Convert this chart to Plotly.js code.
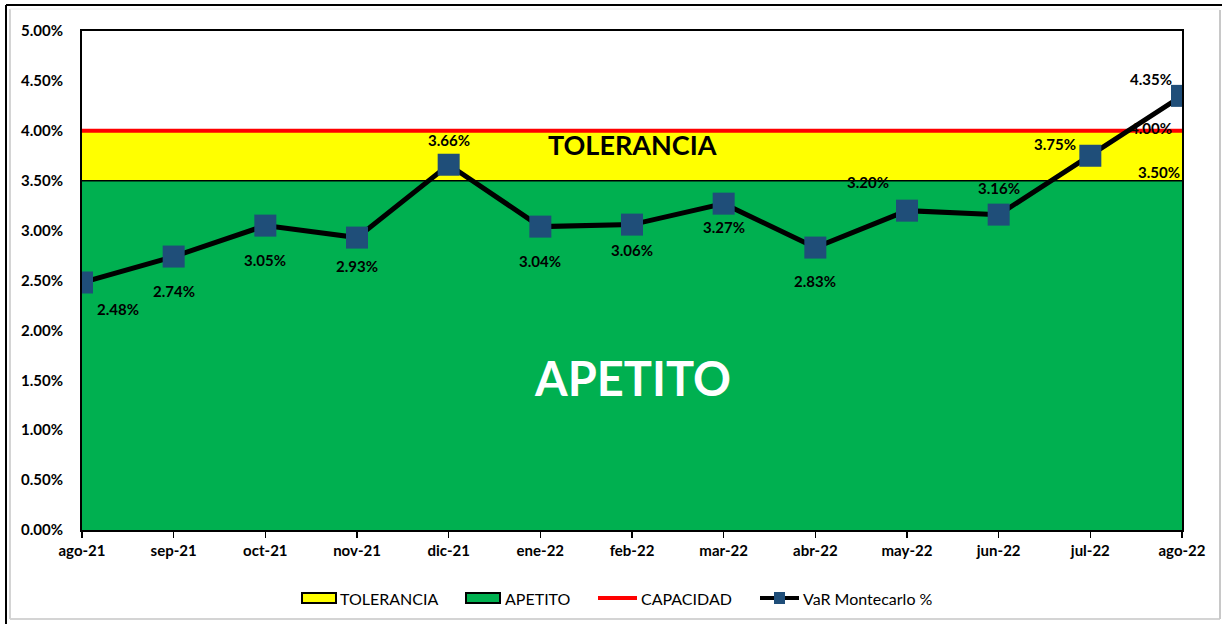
<!DOCTYPE html>
<html>
<head>
<meta charset="utf-8">
<script src="https://cdn.plot.ly/plotly-3.0.1.min.js"></script>
<style>
html,body{margin:0;padding:0;background:#fff;}
#chart{width:1222px;height:624px;}
</style>
</head>
<body>
<div id="chart"></div>
<script>
const months = ["ago-21","sep-21","oct-21","nov-21","dic-21","ene-22","feb-22","mar-22","abr-22","may-22","jun-22","jul-22","ago-22"];
const varMontecarlo = [0.0248,0.0274,0.0305,0.0293,0.0366,0.0304,0.0306,0.0327,0.0283,0.0320,0.0316,0.0375,0.0435];
const apetito = [0.035,0.035,0.035,0.035,0.035,0.035,0.035,0.035,0.035,0.035,0.035,0.035,0.035];
const tolerancia = [0.04,0.04,0.04,0.04,0.04,0.04,0.04,0.04,0.04,0.04,0.04,0.04,0.04];
const capacidad = [0.04,0.04,0.04,0.04,0.04,0.04,0.04,0.04,0.04,0.04,0.04,0.04,0.04];
const yTicks = [0,0.005,0.01,0.015,0.02,0.025,0.03,0.035,0.04,0.045,0.05];
const seriesNames = ["TOLERANCIA","APETITO","CAPACIDAD","VaR Montecarlo %"];

// label pixel offsets (style only)
const labelOffsets = [[36,26],[0,34],[0,34],[0,28],[0,-25],[0,34],[0,25],[0,23],[0,33],[-39,-29],[0,-27],[-35,-12],[-31,-17]];

const FONT = "Lato, 'DejaVu Sans Condensed', Arial, sans-serif";
const COLORS = {tol:'#FFFF00', ape:'#00B050', cap:'#FF0000', var:'#000', mk:'#1F4E79'};
const fmt = v => (v*100).toFixed(2) + "%";

// plot area geometry (pixels) for paper-coordinate decorations
const PL = 82, PR = 1182, PT = 31, PB = 530;
const px = x => (x - PL) / (PR - PL);
const py = y => (PB - y) / (PB - PT);

const traces = [
  {x: months, y: apetito, type:'scatter', mode:'lines', name:seriesNames[1], fill:'tozeroy',
   fillcolor:COLORS.ape, line:{color:'#000', width:1.5}, showlegend:false, hoverinfo:'skip'},
  {x: months, y: tolerancia, type:'scatter', mode:'lines', name:seriesNames[0], fill:'tonexty',
   fillcolor:COLORS.tol, line:{color:'#000', width:1.5}, showlegend:false, hoverinfo:'skip'},
  {x: months, y: capacidad, type:'scatter', mode:'lines', name:seriesNames[2],
   line:{color:COLORS.cap, width:4}, showlegend:false},
  {x: months, y: varMontecarlo, type:'scatter', mode:'lines+markers', name:seriesNames[3],
   line:{color:COLORS.var, width:5}, marker:{symbol:'square', size:22, color:COLORS.mk, line:{width:0}}, showlegend:false}
];

const lblFont = {family:FONT, size:15, color:'#000', weight:'bold'};
const annotations = varMontecarlo.map((v,i)=>({
  x: months[i], y: v, xref:'x', yref:'y', text: fmt(v), showarrow:false,
  xshift: labelOffsets[i][0], yshift: -labelOffsets[i][1], font: lblFont
}));
const last = months.length-1;
annotations.push({x: months[last], y: capacidad[last], text: fmt(capacidad[last]), showarrow:false,
  xshift:-31, yshift:3, font: lblFont});
annotations.push({x: months[last], y: apetito[last], text: fmt(apetito[last]), showarrow:false,
  xshift:-23, yshift:9, font: lblFont});
annotations.push({x: 0.5, xref:'paper', y: 0.0386, yref:'y', text:seriesNames[0], showarrow:false,
  font:{family:FONT, size:27, color:'#000', weight:'bold'}});
annotations.push({x: 0.5, xref:'paper', y: 0.0152, yref:'y', text:seriesNames[1], showarrow:false,
  font:{family:FONT, size:47, color:'#fff', weight:'bold'}});

// manual legend (Excel-style)
const LY = 598;
const legFont = {family:FONT, size:16, color:'#000'};
const legendText = [[seriesNames[0], 338],[seriesNames[1], 503],[seriesNames[2], 639],[seriesNames[3], 801]];
legendText.forEach(([t, x]) => annotations.push({x: px(x), y: py(LY), xref:'paper', yref:'paper',
  xanchor:'left', yanchor:'middle', text:t, showarrow:false, font:legFont}));

const shapes = [
  // legend symbols
  {type:'rect', xref:'paper', yref:'paper', x0:px(302), x1:px(336), y0:py(593), y1:py(603),
   fillcolor:COLORS.tol, line:{color:'#000', width:2}},
  {type:'rect', xref:'paper', yref:'paper', x0:px(466), x1:px(500), y0:py(593), y1:py(603),
   fillcolor:COLORS.ape, line:{color:'#000', width:2}},
  {type:'line', xref:'paper', yref:'paper', x0:px(598), x1:px(637), y0:py(LY), y1:py(LY),
   line:{color:COLORS.cap, width:4}},
  {type:'line', xref:'paper', yref:'paper', x0:px(760), x1:px(799), y0:py(LY), y1:py(LY),
   line:{color:COLORS.var, width:4}},
  {type:'rect', xref:'paper', yref:'paper', x0:px(774), x1:px(785), y0:py(592), y1:py(604),
   fillcolor:COLORS.mk, line:{width:0}},
  // outer frame: black top and left, grey inner / right / bottom
  {type:'line', xref:'paper', yref:'paper', x0:px(6), x1:px(1222), y0:py(5), y1:py(5), line:{color:'#000', width:2}},
  {type:'line', xref:'paper', yref:'paper', x0:px(6), x1:px(6), y0:py(5), y1:py(624), line:{color:'#000', width:2}},
  {type:'line', xref:'paper', yref:'paper', x0:px(10), x1:px(10), y0:py(9), y1:py(619), line:{color:'#d4d4d4', width:2}},
  {type:'line', xref:'paper', yref:'paper', x0:px(10), x1:px(1220), y0:py(619), y1:py(619), line:{color:'#d4d4d4', width:2}},
  {type:'line', xref:'paper', yref:'paper', x0:px(1220), x1:px(1220), y0:py(10), y1:py(619), line:{color:'#c8c8c8', width:2}},
  {type:'line', xref:'paper', yref:'paper', x0:px(10), x1:px(1220), y0:py(9), y1:py(9), line:{color:'#ececec', width:1}}
];

const tickFont = {family:FONT, size:15, color:'#000', weight:'bold'};
const layout = {
  width:1222, height:624,
  margin:{l:PL, r:1222-PR, t:PT, b:624-PB, autoexpand:false},
  paper_bgcolor:'#fff', plot_bgcolor:'#fff',
  showlegend:false,
  xaxis:{type:'category', range:[0, months.length-1], showgrid:false, zeroline:false,
    showline:true, linecolor:'#000', linewidth:2, mirror:true,
    ticks:'outside', ticklen:6, tickcolor:'#000', tickwidth:1.5, tickfont:tickFont},
  yaxis:{range:[0,0.05], tickvals:yTicks, tickformat:'.2%', showgrid:false, zeroline:false,
    showline:true, linecolor:'#000', linewidth:2, mirror:true, ticks:'',
    ticklabelstandoff:14, tickfont:tickFont},
  annotations: annotations,
  shapes: shapes
};

Plotly.newPlot('chart', traces, layout, {displayModeBar:false, staticPlot:true});
</script>
</body>
</html>
